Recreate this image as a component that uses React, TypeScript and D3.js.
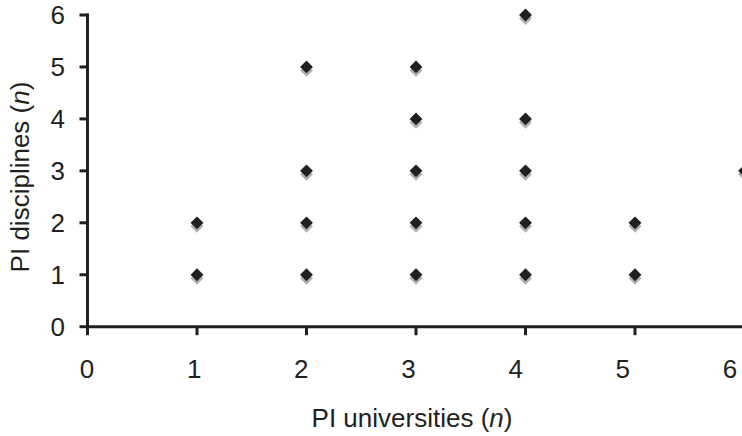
import React from "react";
import * as d3 from "d3";

const xValues = [1, 1, 2, 2, 2, 2, 3, 3, 3, 3, 3, 4, 4, 4, 4, 4, 5, 5, 6];
const yValues = [1, 2, 1, 2, 3, 5, 1, 2, 3, 4, 5, 1, 2, 3, 4, 6, 1, 2, 3];
const xTicks = [0, 1, 2, 3, 4, 5, 6];
const yTicks = [0, 1, 2, 3, 4, 5, 6];

const W = 742;
const H = 436;
const font = "'Liberation Sans', Arial, Helvetica, sans-serif";

export default function App() {
  const x = d3.scaleLinear().domain([0, 6]).range([87.5, 744.5]);
  const xLab = d3.scaleLinear().domain([0, 6]).range([87, 730]);
  const y = d3.scaleLinear().domain([0, 6]).range([326.7, 15]);
  const diamond = d3.symbol().type(d3.symbolDiamond2).size(105)() as string;
  const axisColor = "#231f20";
  const fs = 26;
  return (
    <svg width={W} height={H} style={{ position: "absolute", left: 0, top: 0 }}>
      <rect width={W} height={H} fill="#fff" />
      {xValues.map((xv, i) => (
        <g key={i}>
          <path d={diamond} transform={`translate(${x(xv)},${y(yValues[i]) + 3.5})`} fill="#b0b0b0" />
          <path d={diamond} transform={`translate(${x(xv)},${y(yValues[i])})`} fill="#231f20" />
        </g>
      ))}
      <line x1={x(0)} x2={W} y1={y(0)} y2={y(0)} stroke={axisColor} strokeWidth={3} />
      <line x1={x(0)} x2={x(0)} y1={y(6) - 1.5} y2={y(0)} stroke={axisColor} strokeWidth={3} />
      {yTicks.map((t) => (
        <g key={"y" + t}>
          <line x1={x(0) - 8} x2={x(0)} y1={y(t)} y2={y(t)} stroke={axisColor} strokeWidth={3} />
          <text x={65} y={y(t)} dy="0.36em" textAnchor="end" fontFamily={font} fontSize={fs} fill="#231f20">
            {t}
          </text>
        </g>
      ))}
      {xTicks.map((t) => (
        <g key={"x" + t}>
          <line x1={x(t)} x2={x(t)} y1={y(0)} y2={y(0) + 8.5} stroke={axisColor} strokeWidth={3} />
          <text x={xLab(t)} y={369} dy="0.36em" textAnchor="middle" fontFamily={font} fontSize={fs} fill="#231f20">
            {t}
          </text>
        </g>
      ))}
      <text x={412} y={417.5} dy="0.36em" textAnchor="middle" fontFamily={font} fontSize={fs} fill="#231f20">
        PI universities (<tspan fontStyle="italic">n</tspan>)
      </text>
      <text
        transform={`translate(20,177) rotate(-90)`}
        dy="0.36em"
        textAnchor="middle"
        fontFamily={font}
        fontSize={fs}
        fill="#231f20"
      >
        PI disciplines (<tspan fontStyle="italic">n</tspan>)
      </text>
    </svg>
  );
}
